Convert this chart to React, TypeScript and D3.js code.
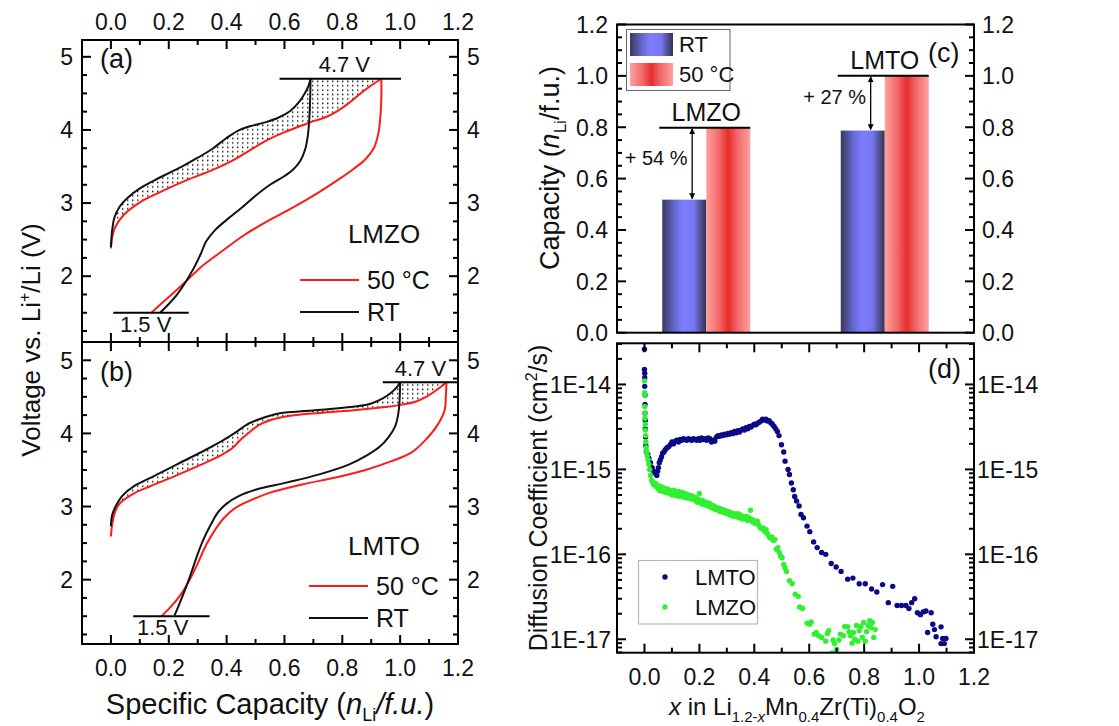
import React from "react";
import * as d3 from "d3";

type Pt = [number, number];

const FONT = '"Liberation Sans", Arial, Helvetica, sans-serif';

// ---------- (a) LMZO voltage profiles: [capacity (n_Li/f.u.), voltage (V)] ----------
const lmzoChargeRT: Pt[] = [
  [0, 2.4], [0.004, 2.62], [0.012, 2.8], [0.03, 2.95], [0.06, 3.08], [0.1, 3.2], [0.15, 3.31],
  [0.2, 3.41], [0.25, 3.51], [0.3, 3.62], [0.35, 3.74], [0.4, 3.89], [0.44, 3.99], [0.48, 4.05],
  [0.53, 4.1], [0.58, 4.17], [0.62, 4.26], [0.65, 4.38], [0.67, 4.5], [0.683, 4.6], [0.69, 4.7],
];
const lmzoDischargeRT: Pt[] = [
  [0.69, 4.7], [0.689, 4.45], [0.686, 4.15], [0.68, 3.9], [0.672, 3.74], [0.655, 3.58], [0.63, 3.46],
  [0.6, 3.37], [0.55, 3.25], [0.5, 3.1], [0.45, 2.93], [0.4, 2.77], [0.36, 2.63], [0.33, 2.48],
  [0.31, 2.3], [0.285, 2.1], [0.255, 1.9], [0.225, 1.73], [0.195, 1.6], [0.17, 1.5],
];
const lmzoCharge50: Pt[] = [
  [0, 2.38], [0.005, 2.55], [0.016, 2.68], [0.045, 2.84], [0.1, 3.01], [0.17, 3.15], [0.26, 3.31],
  [0.35, 3.45], [0.42, 3.58], [0.48, 3.72], [0.54, 3.86], [0.6, 3.97], [0.66, 4.06], [0.7, 4.12],
  [0.74, 4.17], [0.78, 4.25], [0.82, 4.36], [0.86, 4.49], [0.89, 4.58], [0.935, 4.7],
];
const lmzoDischarge50: Pt[] = [
  [0.935, 4.7], [0.935, 4.45], [0.932, 4.2], [0.925, 3.96], [0.91, 3.76], [0.88, 3.6], [0.84, 3.47],
  [0.79, 3.33], [0.72, 3.15], [0.63, 2.94], [0.54, 2.75], [0.46, 2.56], [0.38, 2.33], [0.31, 2.12],
  [0.26, 1.93], [0.21, 1.75], [0.17, 1.61], [0.14, 1.5],
];

// ---------- (b) LMTO voltage profiles ----------
const lmtoChargeRT: Pt[] = [
  [0, 2.73], [0.004, 2.88], [0.016, 3.0], [0.04, 3.15], [0.08, 3.28], [0.14, 3.4], [0.23, 3.58],
  [0.33, 3.78], [0.39, 3.91], [0.43, 4.01], [0.47, 4.12], [0.51, 4.19], [0.575, 4.27], [0.65, 4.3],
  [0.75, 4.33], [0.85, 4.37], [0.9, 4.41], [0.94, 4.48], [0.97, 4.56], [0.99, 4.64], [1.0, 4.7],
];
const lmtoDischargeRT: Pt[] = [
  [1.0, 4.7], [0.998, 4.45], [0.994, 4.28], [0.983, 4.1], [0.96, 3.95], [0.93, 3.82], [0.885, 3.7],
  [0.82, 3.57], [0.72, 3.44], [0.61, 3.33], [0.5, 3.23], [0.44, 3.14], [0.4, 3.04], [0.37, 2.92],
  [0.345, 2.75], [0.32, 2.55], [0.3, 2.35], [0.28, 2.12], [0.26, 1.9], [0.24, 1.7], [0.22, 1.51],
];
const lmtoCharge50: Pt[] = [
  [0, 2.59], [0.004, 2.75], [0.012, 2.9], [0.03, 3.04], [0.08, 3.18], [0.137, 3.28], [0.217, 3.41],
  [0.31, 3.57], [0.38, 3.7], [0.42, 3.8], [0.45, 3.92], [0.48, 4.02], [0.51, 4.11], [0.55, 4.18],
  [0.62, 4.24], [0.72, 4.28], [0.85, 4.32], [0.95, 4.36], [1.0, 4.39], [1.05, 4.43], [1.09, 4.5],
  [1.125, 4.59], [1.16, 4.7],
];
const lmtoDischarge50: Pt[] = [
  [1.16, 4.7], [1.158, 4.5], [1.154, 4.32], [1.13, 4.12], [1.09, 3.92], [1.04, 3.74], [0.97, 3.62],
  [0.88, 3.5], [0.78, 3.4], [0.66, 3.3], [0.55, 3.19], [0.48, 3.08], [0.43, 2.98], [0.39, 2.84],
  [0.36, 2.68], [0.33, 2.48], [0.3, 2.22], [0.27, 1.98], [0.235, 1.76], [0.205, 1.62], [0.175, 1.5],
];

// ---------- (c) capacity comparison ----------
const compounds = ["LMZO", "LMTO"];
const temperatures = ["RT", "50 °C"];
const capacityRT = [0.518, 0.787];
const capacity50 = [0.798, 1.0];
const capacityGain = ["+ 54 %", "+ 27 %"];

// ---------- (d) diffusion coefficients: [x, D (cm²/s)] ----------
const lmtoDiffusion: Pt[] = [
  [0.0, 2.6e-14], [0.0, 1.5e-14], [0.001, 1.35e-14], [0.001, 1.2e-14], [0.001, 9.5e-15],
  [0.002, 7.5e-15], [0.002, 5.8e-15], [0.002, 4.6e-15], [0.003, 3.8e-15], [0.003, 3.0e-15],
  [0.004, 2.4e-15], [0.005, 1.9e-15], [0.007, 1.6e-15], [0.012, 1.5e-15], [0.016, 1.35e-15],
  [0.022, 1.2e-15], [0.028, 1.05e-15], [0.034, 9.5e-16], [0.04, 9.0e-16], [0.045, 8.5e-16],
  [0.048, 9.5e-16], [0.051, 1.05e-15], [0.054, 1.2e-15], [0.058, 1.3e-15], [0.062, 1.4e-15],
  [0.066, 1.55e-15], [0.071, 1.6e-15], [0.076, 1.7e-15], [0.082, 1.8e-15], [0.088, 1.85e-15],
  [0.094, 1.95e-15], [0.1, 2.1e-15], [0.106, 2.0e-15], [0.112, 2.15e-15], [0.118, 2.2e-15],
  [0.124, 2.1e-15], [0.13, 2.25e-15], [0.136, 2.2e-15], [0.142, 2.3e-15], [0.148, 2.25e-15],
  [0.154, 2.2e-15], [0.16, 2.3e-15], [0.166, 2.25e-15], [0.172, 2.2e-15], [0.178, 2.3e-15],
  [0.184, 2.25e-15], [0.19, 2.2e-15], [0.196, 2.3e-15], [0.202, 2.2e-15], [0.208, 2.35e-15],
  [0.214, 2.25e-15], [0.22, 2.3e-15], [0.226, 2.2e-15], [0.232, 2.35e-15], [0.238, 2.3e-15],
  [0.244, 2.1e-15], [0.25, 2.2e-15], [0.256, 2.15e-15], [0.262, 2.4e-15], [0.268, 2.5e-15],
  [0.274, 2.45e-15], [0.28, 2.55e-15], [0.286, 2.5e-15], [0.292, 2.6e-15], [0.298, 2.55e-15],
  [0.304, 2.65e-15], [0.31, 2.6e-15], [0.316, 2.7e-15], [0.322, 2.65e-15], [0.328, 2.8e-15],
  [0.334, 2.7e-15], [0.34, 2.85e-15], [0.346, 2.75e-15], [0.352, 2.9e-15], [0.358, 3.0e-15],
  [0.364, 2.9e-15], [0.37, 3.1e-15], [0.376, 3.0e-15], [0.382, 3.2e-15], [0.388, 3.15e-15],
  [0.394, 3.3e-15], [0.4, 3.4e-15], [0.406, 3.35e-15], [0.412, 3.5e-15], [0.418, 3.6e-15],
  [0.424, 3.7e-15], [0.43, 3.9e-15], [0.436, 3.8e-15], [0.442, 3.9e-15], [0.448, 3.7e-15],
  [0.454, 3.75e-15], [0.46, 3.55e-15], [0.466, 3.4e-15], [0.472, 3.2e-15], [0.478, 3.0e-15],
  [0.484, 2.8e-15], [0.49, 2.5e-15], [0.499, 1.95e-15], [0.507, 1.6e-15], [0.512, 1.25e-15],
  [0.523, 1.0e-15], [0.528, 8.7e-16], [0.535, 6.9e-16], [0.542, 5.75e-16], [0.547, 4.8e-16],
  [0.554, 4.25e-16], [0.563, 3.7e-16], [0.57, 2.95e-16], [0.579, 2.7e-16], [0.592, 2.15e-16],
  [0.602, 1.85e-16], [0.616, 1.4e-16], [0.629, 1.2e-16], [0.645, 1.05e-16], [0.66, 1.0e-16],
  [0.68, 7.8e-17], [0.698, 7.1e-17], [0.716, 6.3e-17], [0.74, 5.1e-17], [0.759, 5.25e-17],
  [0.782, 4.5e-17], [0.804, 4.5e-17], [0.827, 3.9e-17], [0.846, 3.6e-17], [0.867, 4.4e-17],
  [0.904, 4.2e-17], [0.888, 2.7e-17], [0.92, 2.5e-17], [0.936, 2.5e-17], [0.952, 2.5e-17],
  [0.963, 2.3e-17], [0.973, 2.7e-17], [0.984, 3.0e-17], [0.994, 2.05e-17], [1.005, 1.95e-17],
  [1.015, 2.1e-17], [1.025, 2.15e-17], [1.044, 2.05e-17], [1.031, 1.2e-17], [1.05, 1.5e-17],
  [1.056, 1.3e-17], [1.062, 1.07e-17], [1.08, 1.4e-17], [1.086, 1.02e-17], [1.092, 8.9e-18],
  [1.08, 8.9e-18], [1.098, 1.02e-17],
];
const lmzoDiffusion: Pt[] = [
  [0.0, 1.1e-14], [0.001, 8.0e-15], [0.001, 7.5e-15], [0.001, 5.5e-15], [0.002, 4.6e-15],
  [0.002, 4.0e-15], [0.003, 3.4e-15], [0.003, 2.9e-15], [0.004, 2.5e-15], [0.005, 2.1e-15],
  [0.006, 1.8e-15], [0.008, 1.6e-15], [0.01, 1.45e-15], [0.013, 1.3e-15], [0.016, 1.15e-15],
  [0.019, 1.0e-15], [0.022, 8.5e-16], [0.026, 7.4e-16], [0.03, 7.0e-16], [0.034, 6.6e-16],
  [0.038, 6.9e-16], [0.042, 6.3e-16], [0.046, 6.6e-16], [0.05, 5.9e-16], [0.052, 6.1e-16],
  [0.056, 5.6e-16], [0.06, 6.3e-16], [0.064, 5.8e-16], [0.068, 5.5e-16], [0.072, 6.0e-16],
  [0.076, 5.7e-16], [0.08, 5.3e-16], [0.084, 5.9e-16], [0.088, 5.5e-16], [0.092, 5.2e-16],
  [0.096, 5.6e-16], [0.1, 5.0e-16], [0.104, 5.4e-16], [0.108, 5.7e-16], [0.112, 5.1e-16],
  [0.116, 4.9e-16], [0.12, 5.3e-16], [0.124, 5.5e-16], [0.128, 4.8e-16], [0.132, 5.1e-16],
  [0.136, 5.4e-16], [0.14, 5.0e-16], [0.144, 4.7e-16], [0.148, 5.2e-16], [0.152, 4.9e-16],
  [0.156, 4.6e-16], [0.16, 5.0e-16], [0.164, 4.8e-16], [0.168, 4.5e-16], [0.172, 4.9e-16],
  [0.176, 4.6e-16], [0.18, 4.4e-16], [0.184, 4.7e-16], [0.188, 4.3e-16], [0.192, 4.1e-16],
  [0.196, 4.5e-16], [0.2, 5.2e-16], [0.204, 4.2e-16], [0.208, 3.9e-16], [0.212, 4.3e-16],
  [0.216, 4.0e-16], [0.22, 3.8e-16], [0.224, 4.1e-16], [0.228, 3.9e-16], [0.232, 3.7e-16],
  [0.236, 4.0e-16], [0.24, 3.6e-16], [0.244, 3.8e-16], [0.248, 3.5e-16], [0.252, 3.7e-16],
  [0.256, 3.4e-16], [0.26, 3.6e-16], [0.264, 3.5e-16], [0.268, 3.3e-16], [0.272, 3.5e-16],
  [0.276, 3.2e-16], [0.28, 3.4e-16], [0.284, 3.3e-16], [0.288, 3.1e-16], [0.292, 3.3e-16],
  [0.296, 3.2e-16], [0.3, 3.0e-16], [0.304, 3.2e-16], [0.308, 3.1e-16], [0.312, 2.9e-16],
  [0.316, 3.1e-16], [0.32, 3.0e-16], [0.324, 2.8e-16], [0.328, 3.0e-16], [0.332, 2.9e-16],
  [0.336, 2.8e-16], [0.34, 3.0e-16], [0.344, 2.7e-16], [0.348, 2.9e-16], [0.352, 2.8e-16],
  [0.356, 2.6e-16], [0.36, 2.8e-16], [0.364, 2.7e-16], [0.368, 2.6e-16], [0.372, 2.8e-16],
  [0.376, 2.5e-16], [0.38, 2.7e-16], [0.386, 3.3e-16], [0.39, 2.6e-16], [0.394, 2.4e-16],
  [0.398, 2.5e-16], [0.402, 2.3e-16], [0.406, 2.4e-16], [0.411, 2.45e-16], [0.416, 2.2e-16],
  [0.422, 2.05e-16], [0.428, 2.0e-16], [0.432, 2.05e-16], [0.438, 1.85e-16], [0.443, 1.95e-16],
  [0.448, 1.75e-16], [0.454, 1.6e-16], [0.459, 1.55e-16], [0.464, 1.6e-16], [0.47, 1.45e-16],
  [0.475, 1.5e-16], [0.48, 1.15e-16], [0.486, 1.2e-16], [0.491, 1.05e-16], [0.496, 9.5e-17],
  [0.501, 9.1e-17], [0.507, 7.6e-17], [0.512, 6.9e-17], [0.517, 6.3e-17], [0.528, 4.9e-17],
  [0.538, 4.5e-17], [0.549, 3.4e-17], [0.56, 3.2e-17], [0.565, 2.4e-17], [0.576, 2.3e-17],
  [0.592, 1.55e-17], [0.602, 1.5e-17], [0.607, 1.6e-17], [0.618, 1.15e-17], [0.626, 1.2e-17],
  [0.634, 1.1e-17], [0.645, 1.05e-17], [0.66, 9.5e-18], [0.666, 1.17e-17], [0.671, 1.26e-17],
  [0.684, 6.9e-18], [0.687, 9.8e-18], [0.692, 8.9e-18], [0.7, 7.6e-18], [0.708, 9.8e-18],
  [0.713, 1.15e-17], [0.724, 1.1e-17], [0.729, 1.41e-17], [0.74, 1.41e-17], [0.745, 1.23e-17],
  [0.751, 1.1e-17], [0.756, 9.0e-18], [0.761, 1.2e-17], [0.766, 1.0e-17], [0.772, 1.45e-17],
  [0.777, 9.5e-18], [0.782, 1.26e-17], [0.788, 1.41e-17], [0.793, 1.05e-17], [0.798, 1.58e-17],
  [0.804, 9.5e-18], [0.809, 1.23e-17], [0.814, 1.45e-17], [0.82, 1.66e-17], [0.825, 1.38e-17],
  [0.83, 1.58e-17], [0.835, 1.05e-17], [0.84, 1.3e-17],
];

// ---------- tick values ----------
const capacityTicks = [0, 0.2, 0.4, 0.6, 0.8, 1.0, 1.2];
const capacityMinor = [0.1, 0.3, 0.5, 0.7, 0.9, 1.1];
const voltageTicks = [2, 3, 4, 5];
const voltageMinor = [1.25, 1.5, 1.75, 2.25, 2.5, 2.75, 3.25, 3.5, 3.75, 4.25, 4.5, 4.75, 5.25];
const barTicks = [0, 0.2, 0.4, 0.6, 0.8, 1.0, 1.2];
const barMinor = [0.05, 0.1, 0.15, 0.25, 0.3, 0.35, 0.45, 0.5, 0.55, 0.65, 0.7, 0.75, 0.85, 0.9, 0.95, 1.05, 1.1, 1.15];
const diffusionTicks = [1e-17, 1e-16, 1e-15, 1e-14];
const diffusionTickLabels = ["1E-17", "1E-16", "1E-15", "1E-14"];

const MAJ = 9;
const MIN = 5;
const TICK_FS = 23;

type Scale = (v: number) => number;

function ticks(vals: number[], s: Scale, side: "l" | "r" | "t" | "b", edge: number, len: number, k: string) {
  return vals.map((v, i) => {
    const p = s(v);
    if (side === "l") return <line key={k + i} x1={edge} x2={edge + len} y1={p} y2={p} />;
    if (side === "r") return <line key={k + i} x1={edge} x2={edge - len} y1={p} y2={p} />;
    if (side === "t") return <line key={k + i} x1={p} x2={p} y1={edge} y2={edge + len} />;
    return <line key={k + i} x1={p} x2={p} y1={edge} y2={edge - len} />;
  });
}

// ---------- voltage profile panels ----------
const VX0 = 82;
const VX1 = 458;
const xCap = d3.scaleLinear().domain([-0.1, 1.2]).range([VX0, VX1]);

type VoltCfg = {
  y0: number;
  y1: number;
  domain: [number, number];
  chargeRT: Pt[];
  dischargeRT: Pt[];
  charge50: Pt[];
  discharge50: Pt[];
  upperCut: [number, number];
  lowerCut: [number, number];
  upperLabel: [number, number];
  lowerLabel: [number, number];
  tag: string;
  tagY: number;
  name: string;
  nameY: number;
  legendX: number;
  legendY: number;
  showTopLabels: boolean;
  showBottomLabels: boolean;
};

function VoltagePanel({ c }: { c: VoltCfg }) {
  const y = d3.scaleLinear().domain(c.domain).range([c.y1, c.y0]);
  const line = d3
    .line<Pt>()
    .x((d) => xCap(d[0]))
    .y((d) => y(d[1]))
    .curve(d3.curveCatmullRom.alpha(0.5));
  const hatch =
    (line(c.chargeRT) as string) +
    (line([...c.charge50].reverse()) as string).replace(/^M/, "L") +
    "Z";
  const minor = voltageMinor.filter((v) => v > c.domain[0] && v < c.domain[1]);
  const fmt = d3.format(".1f");
  return (
    <g>
      <path d={hatch} fill="url(#dots)" stroke="none" />
      <g fill="none" strokeWidth={2}>
        <path d={line(c.charge50) as string} stroke="#ff1a1a" />
        <path d={line(c.discharge50) as string} stroke="#ff1a1a" />
        <path d={line(c.chargeRT) as string} stroke="#111" />
        <path d={line(c.dischargeRT) as string} stroke="#111" />
      </g>
      <g stroke="#000" strokeWidth={2}>
        <line x1={xCap(c.upperCut[0])} x2={xCap(c.upperCut[1])} y1={y(4.7)} y2={y(4.7)} />
        <line x1={xCap(c.lowerCut[0])} x2={xCap(c.lowerCut[1])} y1={y(1.5)} y2={y(1.5)} />
      </g>
      <g fontFamily={FONT} fontSize={22} fill="#111" textAnchor="middle">
        <text x={xCap(c.upperLabel[0])} y={y(c.upperLabel[1])}>4.7 V</text>
        <text x={xCap(c.lowerLabel[0])} y={y(c.lowerLabel[1])}>1.5 V</text>
      </g>
      <text x={100} y={c.tagY} fontFamily={FONT} fontSize={27} fill="#111">{c.tag}</text>
      <g fontFamily={FONT} fill="#111">
        <text x={384} y={c.nameY} fontSize={26} textAnchor="middle">{c.name}</text>
        <line x1={c.legendX} x2={c.legendX + 59} y1={c.legendY} y2={c.legendY} stroke="#ff1a1a" strokeWidth={2} />
        <text x={c.legendX + 67} y={c.legendY + 9} fontSize={25}>50 °C</text>
        <line x1={c.legendX} x2={c.legendX + 59} y1={c.legendY + 32} y2={c.legendY + 32} stroke="#111" strokeWidth={2} />
        <text x={c.legendX + 67} y={c.legendY + 41} fontSize={25}>RT</text>
      </g>
      <rect x={VX0} y={c.y0} width={VX1 - VX0} height={c.y1 - c.y0} fill="none" stroke="#000" strokeWidth={2} />
      <g stroke="#000" strokeWidth={2}>
        {ticks(voltageTicks, y, "l", VX0, MAJ, "lM")}
        {ticks(minor, y, "l", VX0, MIN, "lm")}
        {ticks(voltageTicks, y, "r", VX1, MAJ, "rM")}
        {ticks(minor, y, "r", VX1, MIN, "rm")}
        {ticks(capacityTicks, xCap, "t", c.y0, MAJ, "tM")}
        {ticks(capacityMinor, xCap, "t", c.y0, MIN, "tm")}
        {ticks(capacityTicks, xCap, "b", c.y1, MAJ, "bM")}
        {ticks(capacityMinor, xCap, "b", c.y1, MIN, "bm")}
      </g>
      <g fontFamily={FONT} fontSize={TICK_FS} fill="#111">
        {voltageTicks.map((v) => (
          <text key={"L" + v} x={VX0 - 9} y={y(v)} dy="0.36em" textAnchor="end">{v}</text>
        ))}
        {voltageTicks.map((v) => (
          <text key={"R" + v} x={VX1 + 9} y={y(v)} dy="0.36em" textAnchor="start">{v}</text>
        ))}
        {c.showTopLabels &&
          capacityTicks.map((v) => (
            <text key={"T" + v} x={xCap(v)} y={c.y0 - 10} textAnchor="middle">{fmt(v)}</text>
          ))}
        {c.showBottomLabels &&
          capacityTicks.map((v) => (
            <text key={"B" + v} x={xCap(v)} y={c.y1 + 32} textAnchor="middle">{fmt(v)}</text>
          ))}
      </g>
    </g>
  );
}

const panelA: VoltCfg = {
  y0: 40, y1: 342, domain: [1.1, 5.23],
  chargeRT: lmzoChargeRT, dischargeRT: lmzoDischargeRT, charge50: lmzoCharge50, discharge50: lmzoDischarge50,
  upperCut: [0.583, 1.003], lowerCut: [0.008, 0.269],
  upperLabel: [0.807, 4.79], lowerLabel: [0.12, 1.24],
  tag: "(a)", tagY: 68, name: "LMZO", nameY: 243, legendX: 300, legendY: 280,
  showTopLabels: true, showBottomLabels: false,
};
const panelB: VoltCfg = {
  y0: 342, y1: 644, domain: [1.12, 5.25],
  chargeRT: lmtoChargeRT, dischargeRT: lmtoDischargeRT, charge50: lmtoCharge50, discharge50: lmtoDischarge50,
  upperCut: [0.94, 1.2], lowerCut: [0.077, 0.341],
  upperLabel: [1.07, 4.79], lowerLabel: [0.179, 1.24],
  tag: "(b)", tagY: 381, name: "LMTO", nameY: 555, legendX: 309, legendY: 586,
  showTopLabels: false, showBottomLabels: true,
};

// ---------- capacity bar panel ----------
const CX0 = 617;
const CX1 = 974;
const CY0 = 24.5;
const CY1 = 332.7;

function CapacityPanel() {
  const y = d3.scaleLinear().domain([0, 1.2]).range([CY1, CY0]);
  const group = d3.scaleBand<string>().domain(compounds).range([CX0, CX1]).paddingInner(0).paddingOuter(0);
  const bw = 44;
  const sub = d3.scaleBand<string>().domain(temperatures).range([-bw, bw]);
  const fmt = d3.format(".1f");
  return (
    <g>
      {compounds.map((cmp, i) => {
        const cx = (group(cmp) as number) + group.bandwidth() / 2;
        const xRT = cx + (sub("RT") as number);
        const x50 = cx + (sub("50 °C") as number);
        const ax = xRT + 0.68 * bw;
        return (
          <g key={cmp}>
            <rect x={xRT} y={y(capacityRT[i])} width={bw} height={y(0) - y(capacityRT[i])} fill="url(#gradRT)" />
            <rect x={x50} y={y(capacity50[i])} width={bw} height={y(0) - y(capacity50[i])} fill="url(#grad50)" />
            <line x1={xRT - 3} x2={x50 + bw} y1={y(capacity50[i])} y2={y(capacity50[i])} stroke="#000" strokeWidth={2} />
            <line
              x1={ax} x2={ax} y1={y(capacity50[i]) + 1} y2={y(capacityRT[i]) - 1}
              stroke="#000" strokeWidth={1.3} markerStart="url(#arrow)" markerEnd="url(#arrow)"
            />
            <text x={cx} y={y(capacity50[i]) - 7} fontFamily={FONT} fontSize={25} textAnchor="middle" fill="#111">{cmp}</text>
            <text
              x={ax - 36} y={(y(capacity50[i]) + y(capacityRT[i])) / 2 + 1}
              fontFamily={FONT} fontSize={20} textAnchor="middle" fill="#111"
            >
              {capacityGain[i]}
            </text>
          </g>
        );
      })}
      <text x={928} y={62} fontFamily={FONT} fontSize={27} fill="#111">(c)</text>
      {/* legend */}
      <g>
        <rect x={626.5} y={29.5} width={103.5} height={61} fill="#fff" stroke="#666" strokeWidth={1} />
        <rect x={630} y={33} width={43} height={23} fill="url(#gradRT)" />
        <rect x={630} y={63} width={43} height={23} fill="url(#grad50)" />
        <text x={679} y={52} fontFamily={FONT} fontSize={22} fill="#111">RT</text>
        <text x={679} y={82} fontFamily={FONT} fontSize={22} fill="#111">50 °C</text>
      </g>
      <rect x={CX0} y={CY0} width={CX1 - CX0} height={CY1 - CY0} fill="none" stroke="#000" strokeWidth={2} />
      <g stroke="#000" strokeWidth={2}>
        {ticks(barTicks, y, "l", CX0, MAJ, "lM")}
        {ticks(barMinor, y, "l", CX0, MIN, "lm")}
        {ticks(barTicks, y, "r", CX1, MAJ, "rM")}
        {ticks(barMinor, y, "r", CX1, MIN, "rm")}
      </g>
      <g fontFamily={FONT} fontSize={TICK_FS} fill="#111">
        {barTicks.map((v) => (
          <text key={"L" + v} x={CX0 - 9} y={y(v)} dy="0.36em" textAnchor="end">{fmt(v)}</text>
        ))}
        {barTicks.map((v) => (
          <text key={"R" + v} x={CX1 + 8} y={y(v)} dy="0.36em" textAnchor="start">{fmt(v)}</text>
        ))}
      </g>
    </g>
  );
}

// ---------- diffusion panel ----------
const DY0 = 343.3;
const DY1 = 652.7;

function DiffusionPanel() {
  const x = d3.scaleLinear().domain([-0.1, 1.2]).range([CX0, CX1]);
  const y = d3.scaleLog().domain([6.95e-18, 3.05e-14]).range([DY1, DY0]);
  const logMinor: number[] = [];
  for (let e = -18; e <= -14; e++) {
    for (let m = 2; m <= 9; m++) {
      const v = m * Math.pow(10, e);
      if (v > 6.95e-18 && v < 3.05e-14) logMinor.push(v);
    }
  }
  const fmt = d3.format(".1f");
  const inside = (d: Pt) => d[1] >= 6.6e-18;
  return (
    <g>
      <defs>
        <clipPath id="clipD">
          <rect x={CX0} y={DY0} width={CX1 - CX0} height={DY1 - DY0} />
        </clipPath>
      </defs>
      <g clipPath="url(#clipD)">
        {lmtoDiffusion.filter(inside).map((d, i) => (
          <circle key={"t" + i} cx={x(d[0])} cy={y(d[1])} r={2.7} fill="#0a0a86" />
        ))}
        {lmzoDiffusion.filter(inside).map((d, i) => (
          <circle key={"z" + i} cx={x(d[0])} cy={y(d[1])} r={2.7} fill="#30f030" />
        ))}
      </g>
      {/* legend */}
      <rect x={638.5} y={560.5} width={119} height={63.5} fill="none" stroke="#b8b8b8" strokeWidth={1.2} />
      <circle cx={665} cy={577} r={2.7} fill="#0a0a86" />
      <circle cx={665} cy={607} r={2.7} fill="#30f030" />
      <text x={695} y={585} fontFamily={FONT} fontSize={22} fill="#111">LMTO</text>
      <text x={695} y={615} fontFamily={FONT} fontSize={22} fill="#111">LMZO</text>
      <text x={928} y={378} fontFamily={FONT} fontSize={27} fill="#111">(d)</text>
      <rect x={CX0} y={DY0} width={CX1 - CX0} height={DY1 - DY0} fill="none" stroke="#000" strokeWidth={2} />
      <g stroke="#000" strokeWidth={2}>
        {ticks(diffusionTicks, y, "l", CX0, MAJ, "lM")}
        {ticks(logMinor, y, "l", CX0, MIN, "lm")}
        {ticks(diffusionTicks, y, "r", CX1, MAJ, "rM")}
        {ticks(logMinor, y, "r", CX1, MIN, "rm")}
        {ticks(capacityTicks, x, "t", DY0, MAJ, "tM")}
        {ticks(capacityMinor, x, "t", DY0, MIN, "tm")}
        {ticks(capacityTicks, x, "b", DY1, MAJ, "bM")}
        {ticks(capacityMinor, x, "b", DY1, MIN, "bm")}
      </g>
      <g fontFamily={FONT} fontSize={TICK_FS} fill="#111">
        {diffusionTicks.map((v, i) => (
          <text key={"L" + i} x={CX0 - 6} y={y(v)} dy="0.36em" textAnchor="end">{diffusionTickLabels[i]}</text>
        ))}
        {diffusionTicks.map((v, i) => (
          <text key={"R" + i} x={CX1 + 3} y={y(v)} dy="0.36em" textAnchor="start">{diffusionTickLabels[i]}</text>
        ))}
        {capacityTicks.map((v) => (
          <text key={"B" + v} x={x(v)} y={DY1 + 32} textAnchor="middle">{fmt(v)}</text>
        ))}
      </g>
    </g>
  );
}

export default function App() {
  return (
    <svg
      width={1119}
      height={726}
      viewBox="0 0 1119 726"
      style={{ position: "absolute", left: 0, top: 0, background: "#fff" }}
    >
      <defs>
        <pattern id="dots" width={5} height={4.4} patternUnits="userSpaceOnUse">
          <rect x={2} y={1.4} width={1.4} height={1.5} fill="#111" />
        </pattern>
        <linearGradient id="gradRT" x1="0" x2="1" y1="0" y2="0">
          <stop offset="0" stopColor="#3a3a5c" />
          <stop offset="0.28" stopColor="#6666d0" />
          <stop offset="0.48" stopColor="#7d7dff" />
          <stop offset="0.72" stopColor="#7676f2" />
          <stop offset="1" stopColor="#33334c" />
        </linearGradient>
        <linearGradient id="grad50" x1="0" x2="1" y1="0" y2="0">
          <stop offset="0" stopColor="#ffa0a0" />
          <stop offset="0.3" stopColor="#f26666" />
          <stop offset="0.5" stopColor="#e82c2c" />
          <stop offset="0.7" stopColor="#f26666" />
          <stop offset="1" stopColor="#ffa0a0" />
        </linearGradient>
        <marker id="arrow" viewBox="0 0 10 10" refX="9" refY="5" markerWidth="6" markerHeight="7" orient="auto-start-reverse" markerUnits="userSpaceOnUse">
          <path d="M0,0 L10,5 L0,10 z" fill="#000" />
        </marker>
      </defs>

      <VoltagePanel c={panelA} />
      <VoltagePanel c={panelB} />
      <CapacityPanel />
      <DiffusionPanel />

      {/* axis titles */}
      <g fontFamily={FONT} fill="#111">
        <text transform="translate(40,340) rotate(-90)" textAnchor="middle" fontSize={26}>
          Voltage vs. Li<tspan dy={-10} fontSize={16}>+</tspan>
          <tspan dy={10}>/Li (V)</tspan>
        </text>
        <text x={270} y={714} textAnchor="middle" fontSize={29}>
          Specific Capacity (<tspan fontStyle="italic">n</tspan>
          <tspan dy={7} fontSize={18}>Li</tspan>
          <tspan dy={-7} fontStyle="italic">/f.u.</tspan>)
        </text>
        <text transform="translate(559,168) rotate(-90)" textAnchor="middle" fontSize={27}>
          Capacity (<tspan fontStyle="italic">n</tspan>
          <tspan dy={7} fontSize={17}>Li</tspan>
          <tspan dy={-7}>/f.u.)</tspan>
        </text>
        <text transform="translate(547,498) rotate(-90)" textAnchor="middle" fontSize={25}>
          Diffusion Coefficient (cm<tspan dy={-10} fontSize={16}>2</tspan>
          <tspan dy={10}>/s)</tspan>
        </text>
        <text x={797} y={715} textAnchor="middle" fontSize={24}>
          <tspan fontStyle="italic">x</tspan> in Li
          <tspan dy={7} fontSize={15}>1.2-</tspan>
          <tspan fontSize={15} fontStyle="italic">x</tspan>
          <tspan dy={-7}>Mn</tspan>
          <tspan dy={7} fontSize={15}>0.4</tspan>
          <tspan dy={-7}>Zr(Ti)</tspan>
          <tspan dy={7} fontSize={15}>0.4</tspan>
          <tspan dy={-7}>O</tspan>
          <tspan dy={7} fontSize={15}>2</tspan>
        </text>
      </g>
    </svg>
  );
}
